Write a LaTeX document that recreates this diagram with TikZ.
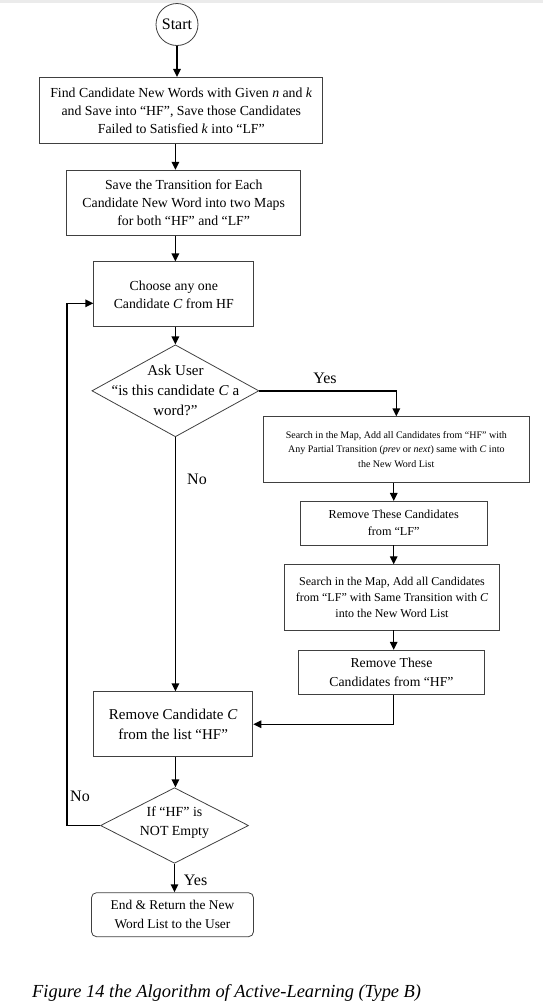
\documentclass[tikz,border=0pt]{standalone}
\usepackage{fontspec}
\setmainfont{Liberation Serif}
\usetikzlibrary{shapes.geometric,arrows.meta}
\newcommand{\fs}[2]{\fontsize{#1}{#2}\selectfont}

\begin{document}
\begin{tikzpicture}[x=1pt,y=-1pt,
	box/.style={draw=black!75, line width=0.8pt, inner sep=0pt, align=center, font=\fs{13.8}{18}},
	decision/.style={draw=black!75, line width=0.8pt, diamond, inner sep=0pt},
	arrow/.style={line width=1.4pt, -{Triangle[length=8pt,width=7.5pt]}},
	lbl/.style={font=\fs{16}{18}}]
	\useasboundingbox (0,0) rectangle (543,1004);
	\fill[black!8] (0,0) rectangle (543,3);
	% main column
	\node[circle, draw=black!75, line width=0.8pt, minimum size=42, inner sep=0pt, font=\fs{16}{18}] (start) at (177,24.5) {Start};
	\node[box, minimum width=283, minimum height=66] (find) at (181.3,110.3) {Find Candidate New Words with Given \textit{n} and \textit{k}\\and Save into “HF”, Save those Candidates\\Failed to Satisfied \textit{k} into “LF”};
	\node[box, minimum width=234, minimum height=65] (trans) at (183.7,202.7) {Save the Transition for Each\\Candidate New Word into two Maps\\for both “HF” and “LF”};
	\node[box, minimum width=160, minimum height=65] (choose) at (173.8,294.3) {Choose any one\\Candidate \textit{C} from HF};
	\node[decision, minimum width=167, minimum height=92] (ask) at (175.4,390.8) {};
	\node[font=\fs{15}{20}, align=center] (asktext) at (ask) {Ask User\\“is this candidate \textit{C} a\\word?”};
	% right column
	\node[box, minimum width=265.5, minimum height=65.6, font=\fs{10}{14.3}] (addhf) at (396.3,449.5) {Search in the Map, Add all Candidates from “HF” with\\Any Partial Transition (\textit{prev} or \textit{next}) same with \textit{C} into\\the New Word List};
	\node[box, minimum width=187, minimum height=43.7, font=\fs{12.2}{17}] (droplf) at (393.7,523.2) {Remove These Candidates\\from “LF”};
	\node[box, minimum width=214.7, minimum height=65.3, font=\fs{12}{16}] (addlf) at (392,597.3) {Search in the Map, Add all Candidates\\from “LF” with Same Transition with \textit{C}\\into the New Word List};
	\node[box, minimum width=186.7, minimum height=44, font=\fs{13.7}{18.3}] (drophf) at (391.5,672.3) {Remove These\\Candidates from “HF”};
	% bottom
	\node[box, minimum width=159.3, minimum height=65, font=\fs{15}{20}] (dropc) at (173.2,724.2) {Remove Candidate \textit{C}\\from the list “HF”};
	\node[decision, minimum width=148, minimum height=75.6] (check) at (174.5,825.5) {};
	\node[font=\fs{13.9}{19}, align=center] (checktext) at (174.5,823) {If “HF” is\\NOT Empty};
	\node[box, rounded corners=5pt, minimum width=162, minimum height=44, font=\fs{13.4}{19}] (stop) at (172.5,914.7) {End \& Return the New\\Word List to the User};
	\node[anchor=west, inner sep=0pt, font=\fs{18.4}{20}\itshape] (caption) at (32,993) {Figure 14 the Algorithm of Active-Learning (Type B)};
	% labels
	\node[lbl] (yes1) at (325,378) {Yes};
	\node[lbl] (no1) at (197,479.3) {No};
	\node[lbl] (no2) at (80,796.7) {No};
	\node[lbl] (yes2) at (195.6,880.7) {Yes};
	% connectors
	\draw[arrow] (start.south) -- (find.north -| start);
	\draw[arrow] (find.south -| ask) -- (trans.north -| ask);
	\draw[arrow] (trans.south -| ask) -- (choose.north -| ask);
	\draw[arrow] (choose.south -| ask) -- (ask.north);
	\draw[arrow] (ask.east) -| (addhf.north);
	\draw[arrow] (addhf.south -| droplf) -- (droplf.north);
	\draw[arrow] (droplf.south) -- (addlf.north -| droplf);
	\draw[arrow] (addlf.south -| droplf) -- (drophf.north -| droplf);
	\draw[arrow] (drophf.south -| droplf) |- (dropc.east);
	\draw[arrow] (ask.south) -- (dropc.north -| ask);
	\draw[arrow] (dropc.south -| ask) -- (check.north -| ask);
	\draw[arrow] (check.south) -- (stop.north -| check);
	\coordinate (back) at (66.8,303.3);
	\draw[arrow] (check.west) -| (back) -- (back -| choose.west);
\end{tikzpicture}
\end{document}
